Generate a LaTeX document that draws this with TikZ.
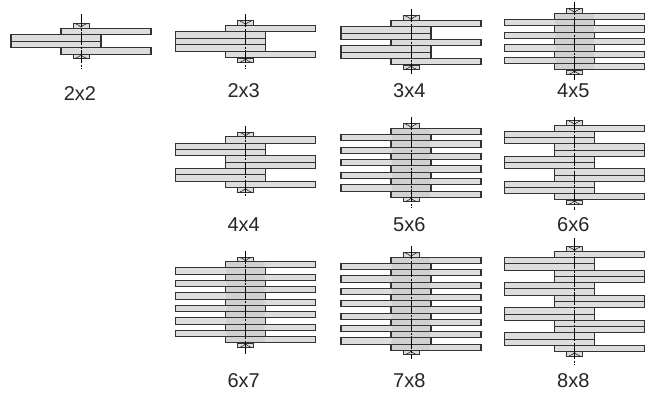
\documentclass[tikz,border=0pt]{standalone}
\usepackage{fontspec}
\setmainfont{Liberation Sans}
\tikzset{
  x=1pt,y=-1pt,
  plate/.style={draw=black!80,line width=1.05pt,fill=plategray},
  pinbox/.style={draw=black!80,line width=0.95pt,fill=plategray},
  pinmark/.style={draw=black!85,line width=0.6pt},
  axisline/.style={draw=black,line width=0.6pt,dash pattern=on 13pt off 1.5pt on 2pt off 1.5pt},
  caption/.style={font=\fontsize{20}{24}\selectfont,text=black!85,inner sep=0pt}
}
\definecolor{plategray}{HTML}{DCDEDC}
\definecolor{coredark}{HTML}{D0D2D0}
% #1 left x, #2 top y, #3 bottom y, #4 number of plates, #5 plate offsets, #6 core colour, #7 axis top, #8 axis bottom
\newcommand{\chainlink}[8]{
  \pgfmathsetmacro{\pch}{(#3-#2)/#4}
  \pgfmathsetmacro{\cx}{#1+70}
  \foreach \off [count=\k from 0] in {#5}{
    \pgfmathsetmacro{\yy}{floor(#2+\k*\pch)+0.5}
    \pgfmathsetmacro{\yz}{floor(#2+(\k+1)*\pch)+0.5}
    \pgfmathsetmacro{\xa}{#1+\off}
    \path[plate] (\xa,\yy) rectangle (\xa+90,\yz);
    \fill[#6] (#1+50.6,\yy+0.6) rectangle (#1+89.4,\yz-0.6);
  }
  \path[pinbox] (\cx-8,#2-4.4) rectangle (\cx+8,#2);
  \path[pinbox] (\cx-8,#3) rectangle (\cx+8,#3+4.4);
  \path[pinmark] (\cx-5.5,#2-4.2) .. controls (\cx-3,#2-3.2) and (\cx-1,#2-2.4) .. (\cx,#2-0.8)
                 .. controls (\cx+1,#2-2.4) and (\cx+3,#2-3.2) .. (\cx+5.5,#2-4.2);
  \path[pinmark] (\cx-5.5,#3+4.2) .. controls (\cx-3,#3+3.2) and (\cx-1,#3+2.4) .. (\cx,#3+0.8)
                 .. controls (\cx+1,#3+2.4) and (\cx+3,#3+3.2) .. (\cx+5.5,#3+4.2);
  \path[axisline] (\cx,#7) -- (\cx,#8);
}
\begin{document}
\begin{tikzpicture}
\useasboundingbox (0,0) rectangle (657,400);
\fill[white] (0,0) rectangle (657,400);
% top row
\chainlink{11}{28}{54}{4}{50,0,0,50}{plategray}{14}{69}
\chainlink{175.5}{25.3}{58}{5}{50,0,0,0,50}{plategray}{14}{69}
\chainlink{341}{20.3}{65}{7}{50,0,0,50,0,0,50}{plategray}{9}{74}
\chainlink{504.5}{13.3}{70}{9}{50,0,50,0,50,0,50,0,50}{coredark}{2.3}{80}
% middle row
\chainlink{175.5}{136.7}{187.7}{8}{50,0,0,50,50,0,0,50}{plategray}{125.7}{196}
\chainlink{341}{128.3}{197.3}{11}{50,0,50,0,50,0,50,0,50,0,50}{coredark}{117.3}{207.7}
\chainlink{504.5}{125.3}{200}{12}{50,0,0,50,50,0,0,50,50,0,0,50}{plategray}{116.7}{210}
% bottom row
\chainlink{175.5}{261.7}{343}{13}{50,0,50,0,50,0,50,0,50,0,50,0,50}{coredark}{250.7}{355}
\chainlink{341}{257.3}{350.3}{15}{50,0,50,0,50,0,50,0,50,0,50,0,50,0,50}{coredark}{246}{359.3}
\chainlink{504.5}{251.3}{351.7}{16}{50,0,0,50,50,0,0,50,50,0,0,50,50,0,0,50}{plategray}{238}{365}
% captions
\node[caption] (c22) at (80,94) {2x2};
\node[caption] (c23) at (243.7,91) {2x3};
\node[caption] (c34) at (409.3,91) {3x4};
\node[caption] (c45) at (573.3,91) {4x5};
\node[caption] (c44) at (243.7,224.5) {4x4};
\node[caption] (c56) at (409.3,224.5) {5x6};
\node[caption] (c66) at (573.3,224.5) {6x6};
\node[caption] (c67) at (243.7,381) {6x7};
\node[caption] (c78) at (409.3,381) {7x8};
\node[caption] (c88) at (573.3,381) {8x8};
\end{tikzpicture}
\end{document}
